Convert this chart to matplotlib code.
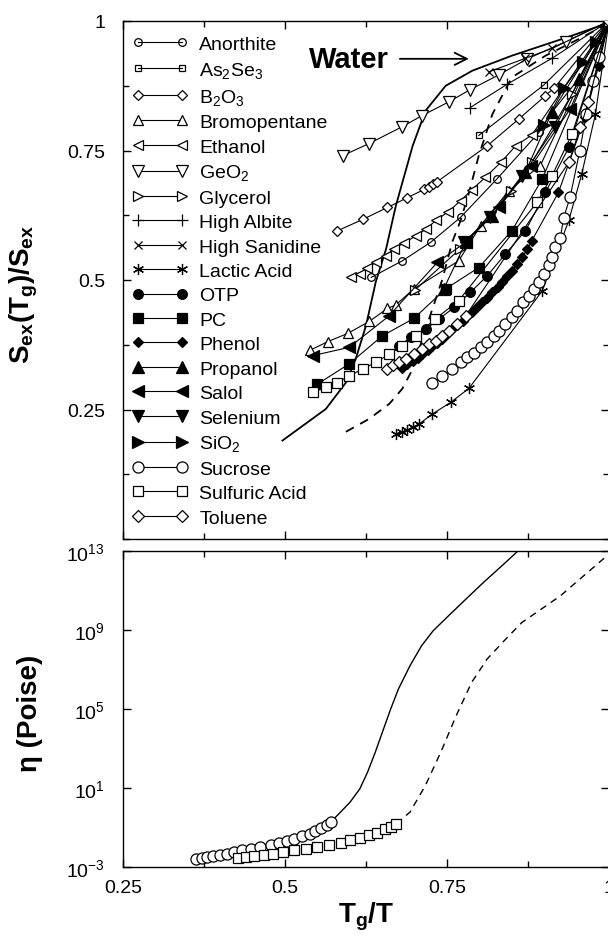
import numpy as np
import matplotlib
matplotlib.use('Agg')
import matplotlib.pyplot as plt
from matplotlib.ticker import MultipleLocator, FixedLocator, FuncFormatter, NullLocator

plt.rcParams['font.family'] = ['Liberation Sans', 'DejaVu Sans']
plt.rcParams['mathtext.fontset'] = 'custom'
plt.rcParams['mathtext.rm'] = 'Liberation Sans'
plt.rcParams['mathtext.it'] = 'Liberation Sans:italic'
plt.rcParams['mathtext.bf'] = 'Liberation Sans:bold'
plt.rcParams['mathtext.default'] = 'regular'

# ---------------- data: top panel (Tg/T , Sex(Tg)/Sex) ----------------
anorthite_x = [0.633, 0.681, 0.725, 0.771, 0.827, 0.892, 1.0]
anorthite_y = [0.505, 0.537, 0.573, 0.621, 0.695, 0.785, 1.0]
as2se3_x = [0.799, 0.899, 1.0]
as2se3_y = [0.779, 0.876, 1.0]
b2o3_x = [0.581, 0.620, 0.658, 0.689, 0.715, 0.722, 0.728, 0.735, 0.812, 0.861, 0.902, 0.915, 1.0]
b2o3_y = [0.595, 0.617, 0.640, 0.659, 0.675, 0.680, 0.685, 0.690, 0.759, 0.811, 0.856, 0.870, 1.0]
bromopentane_x = [0.538, 0.566, 0.597, 0.630, 0.658, 0.671, 0.699, 0.768, 0.802, 0.845, 0.894, 1.0]
bromopentane_y = [0.364, 0.381, 0.397, 0.420, 0.445, 0.452, 0.483, 0.537, 0.605, 0.672, 0.721, 1.0]
ethanol_x = [0.602, 0.615, 0.627, 0.640, 0.656, 0.668, 0.684, 0.702, 0.717, 0.733, 0.751, 0.771, 0.788, 0.809, 0.833, 0.856, 0.881, 1.0]
ethanol_y = [0.505, 0.512, 0.523, 0.534, 0.547, 0.560, 0.572, 0.585, 0.598, 0.615, 0.631, 0.653, 0.674, 0.698, 0.727, 0.759, 0.780, 1.0]
geo2_x = [0.589, 0.629, 0.681, 0.711, 0.753, 0.785, 0.830, 0.874, 0.933, 1.0]
geo2_y = [0.740, 0.763, 0.796, 0.817, 0.844, 0.867, 0.896, 0.927, 0.960, 1.0]
glycerol_x = [0.700, 0.770, 0.848, 0.881, 0.943, 1.0]
glycerol_y = [0.480, 0.560, 0.672, 0.727, 0.859, 1.0]
albite_x = [0.786, 0.843, 0.912, 1.0]
albite_y = [0.833, 0.878, 0.928, 1.0]
sanidine_x = [0.815, 0.871, 0.912, 1.0]
sanidine_y = [0.902, 0.928, 0.947, 1.0]
lactic_x = [0.671, 0.680, 0.688, 0.697, 0.707, 0.727, 0.756, 0.784, 0.897, 0.938, 0.958, 0.979, 1.0]
lactic_y = [0.203, 0.207, 0.210, 0.216, 0.222, 0.241, 0.264, 0.291, 0.479, 0.615, 0.705, 0.820, 1.0]
otp_x = [0.676, 0.694, 0.717, 0.738, 0.761, 0.786, 0.812, 0.840, 0.871, 0.902, 0.938, 1.0]
otp_y = [0.373, 0.389, 0.405, 0.425, 0.447, 0.476, 0.508, 0.550, 0.595, 0.669, 0.756, 1.0]
pc_x = [0.550, 0.599, 0.650, 0.699, 0.748, 0.799, 0.850, 0.897, 1.0]
pc_y = [0.299, 0.338, 0.392, 0.426, 0.483, 0.524, 0.595, 0.695, 1.0]
phenol_x = [0.681, 0.689, 0.697, 0.705, 0.712, 0.720, 0.727, 0.735, 0.743, 0.750, 0.758, 0.766, 0.774,
            0.781, 0.789, 0.797, 0.804, 0.812, 0.820, 0.828, 0.835, 0.843, 0.850, 0.858, 0.866, 0.874,
            0.881, 0.922, 0.963, 0.984, 1.0]
phenol_y = [0.331, 0.337, 0.344, 0.350, 0.357, 0.364, 0.372, 0.379, 0.387, 0.396, 0.405, 0.413, 0.421,
            0.430, 0.439, 0.448, 0.457, 0.466, 0.476, 0.486, 0.496, 0.507, 0.518, 0.531, 0.544, 0.560,
            0.576, 0.669, 0.814, 0.914, 1.0]
propanol_x = [0.745, 0.779, 0.820, 0.871, 0.912, 0.953, 1.0]
propanol_y = [0.483, 0.573, 0.624, 0.708, 0.824, 0.888, 1.0]
salol_x = [0.543, 0.599, 0.660, 0.735, 0.779, 0.830, 0.880, 0.940, 1.0]
salol_y = [0.354, 0.370, 0.430, 0.534, 0.573, 0.640, 0.720, 0.830, 1.0]
selenium_x = [0.776, 0.817, 0.866, 0.917, 1.0]
selenium_y = [0.573, 0.621, 0.701, 0.795, 1.0]
sio2_x = [0.900, 0.930, 0.960, 0.980, 1.0]
sio2_y = [0.800, 0.870, 0.920, 0.960, 1.0]
sucrose_x = [0.727, 0.743, 0.758, 0.771, 0.781, 0.792, 0.802, 0.812, 0.822, 0.830, 0.840, 0.850, 0.858,
             0.868, 0.876, 0.884, 0.892, 0.899, 0.907, 0.912, 0.917, 0.925, 0.930, 0.940, 0.955, 0.965,
             0.976, 0.985, 1.0]
sucrose_y = [0.302, 0.315, 0.328, 0.341, 0.351, 0.360, 0.370, 0.380, 0.392, 0.402, 0.415, 0.428, 0.441,
             0.457, 0.470, 0.483, 0.496, 0.512, 0.528, 0.544, 0.563, 0.582, 0.620, 0.660, 0.750, 0.820,
             0.885, 0.930, 1.0]
sulfuric_x = [0.543, 0.563, 0.581, 0.599, 0.620, 0.640, 0.661, 0.681, 0.702, 0.732, 0.768, 0.889, 0.912, 0.943, 1.0]
sulfuric_y = [0.283, 0.293, 0.302, 0.315, 0.328, 0.341, 0.357, 0.373, 0.392, 0.425, 0.460, 0.650, 0.701, 0.782, 1.0]
toluene_x = [0.658, 0.666, 0.676, 0.686, 0.699, 0.712, 0.722, 0.733, 0.743, 0.753, 0.766, 0.779, 0.938, 0.956, 0.968, 1.0]
toluene_y = [0.328, 0.335, 0.341, 0.347, 0.357, 0.367, 0.376, 0.383, 0.392, 0.402, 0.415, 0.431, 0.727, 0.795, 0.843, 1.0]

water_solid_x = [0.496, 0.563, 0.594, 0.609, 0.625, 0.640, 0.656, 0.671, 0.697, 0.717, 0.748, 0.789, 0.850, 0.927, 0.994]
water_solid_y = [0.190, 0.251, 0.302, 0.347, 0.412, 0.496, 0.560, 0.643, 0.759, 0.827, 0.875, 0.904, 0.933, 0.965, 0.994]
water_dash_x = [0.594, 0.630, 0.661, 0.681, 0.697, 0.717, 0.743, 0.758, 0.771, 0.784, 0.799, 0.820, 0.850, 0.902, 0.953, 0.994]
water_dash_y = [0.207, 0.232, 0.261, 0.290, 0.328, 0.405, 0.502, 0.573, 0.615, 0.669, 0.740, 0.820, 0.891, 0.933, 0.965, 0.992]

# ---------------- data: bottom panel (Tg/T , log10 viscosity in Poise) ----------------
circ_x = [0.3625, 0.3714, 0.3804, 0.3893, 0.4000, 0.4101, 0.4220, 0.4339, 0.4476, 0.4619, 0.4786, 0.4905,
          0.5024, 0.5143, 0.5262, 0.5381, 0.5470, 0.5560, 0.5649, 0.5708]
circ_logeta = [-2.57, -2.54, -2.49, -2.44, -2.37, -2.32, -2.24, -2.15, -2.07, -1.98, -1.87, -1.76,
               -1.66, -1.56, -1.44, -1.31, -1.19, -1.02, -0.86, -0.72]
sq_x = [0.428, 0.440, 0.452, 0.467, 0.4815, 0.4964, 0.5143, 0.5321, 0.550, 0.5679, 0.5857, 0.6006,
        0.6155, 0.6304, 0.6423, 0.6542, 0.6631, 0.672]
sq_logeta = [-2.54, -2.49, -2.44, -2.37, -2.32, -2.24, -2.15, -2.07, -1.98, -1.87, -1.76, -1.65,
             -1.53, -1.39, -1.26, -1.09, -0.97, -0.80]
visc_solid_x = [0.5708, 0.5857, 0.6006, 0.6155, 0.6274, 0.6393, 0.6512, 0.6631, 0.6750, 0.6929, 0.7107,
                0.7286, 0.7524, 0.7762, 0.8060, 0.8357, 0.8595]
visc_solid_logeta = [-0.72, -0.22, 0.29, 0.96, 1.80, 2.81, 3.91, 5.00, 6.01, 7.19, 8.20, 8.96, 9.72,
                     10.47, 11.40, 12.28, 13.0]
visc_dash_x = [0.672, 0.6929, 0.7167, 0.7405, 0.7643, 0.7881, 0.8119, 0.8357, 0.8655, 0.8952, 0.925,
               0.9548, 0.9845, 0.9994]
visc_dash_logeta = [-0.80, -0.22, 1.13, 2.82, 4.67, 6.35, 7.53, 8.37, 9.38, 10.05, 10.73, 11.57, 12.41, 12.83]

ASTER = (6, 2, 0)
series = [
    ("Anorthite", anorthite_x, anorthite_y, 'o', 'none', 5.5),
    ("As$_2$Se$_3$", as2se3_x, as2se3_y, 's', 'none', 5),
    ("B$_2$O$_3$", b2o3_x, b2o3_y, 'D', 'white', 5.5),
    ("Bromopentane", bromopentane_x, bromopentane_y, '^', 'white', 7.5),
    ("Ethanol", ethanol_x, ethanol_y, '<', 'white', 7),
    ("GeO$_2$", geo2_x, geo2_y, 'v', 'white', 8),
    ("Glycerol", glycerol_x, glycerol_y, '>', 'white', 7.5),
    ("High Albite", albite_x, albite_y, '+', 'k', 9),
    ("High Sanidine", sanidine_x, sanidine_y, 'x', 'k', 6),
    ("Lactic Acid", lactic_x, lactic_y, ASTER, 'k', 8),
    ("OTP", otp_x, otp_y, 'o', 'k', 7),
    ("PC", pc_x, pc_y, 's', 'k', 6.5),
    ("Phenol", phenol_x, phenol_y, 'D', 'k', 5.5),
    ("Propanol", propanol_x, propanol_y, '^', 'k', 8),
    ("Salol", salol_x, salol_y, '<', 'k', 8),
    ("Selenium", selenium_x, selenium_y, 'v', 'k', 8),
    ("SiO$_2$", sio2_x, sio2_y, '>', 'k', 8),
    ("Sucrose", sucrose_x, sucrose_y, 'o', 'white', 8),
    ("Sulfuric Acid", sulfuric_x, sulfuric_y, 's', 'white', 7),
    ("Toluene", toluene_x, toluene_y, 'D', 'white', 6),
]

W, H = 608, 937
fig = plt.figure(figsize=(W / 100, H / 100), dpi=100)
L, R = 123 / W, 609 / W
ax1 = fig.add_axes([L, 1 - 540 / H, R - L, (540 - 22) / H])
ax2 = fig.add_axes([L, 1 - 868 / H, R - L, (868 - 552) / H])

ax1.plot(water_solid_x, water_solid_y, '-', color='k', lw=1.3, zorder=2)
ax1.plot(water_dash_x, water_dash_y, '--', color='k', lw=1.3, dashes=(5, 4), zorder=2)

for name, xs, ys, mk, fc, ms in series:
    ax1.plot(xs, ys, '-', color='k', lw=0.8, marker=mk, markersize=ms,
             markerfacecolor=fc, markeredgecolor='k', markeredgewidth=0.9,
             label=name, zorder=3)

ax1.set_xlim(0.25, 1.0)
ax1.set_ylim(0.0, 1.0)
ax1.xaxis.set_major_locator(MultipleLocator(0.25))
ax1.xaxis.set_minor_locator(MultipleLocator(0.125))
ax1.yaxis.set_major_locator(FixedLocator([0.25, 0.5, 0.75, 1.0]))
ax1.yaxis.set_minor_locator(MultipleLocator(0.125))
ax1.yaxis.set_major_formatter(FuncFormatter(lambda v, p: f"{v:g}"))
ax1.tick_params(axis='x', labelbottom=False)

leg = ax1.legend(loc='upper left', bbox_to_anchor=(0.0185, 0.972), borderaxespad=0, borderpad=0,
                 frameon=False, numpoints=2, fontsize=14, handlelength=2.86, handletextpad=0.6,
                 labelspacing=0.35)

ax1.annotate("", xy=(0.788, 0.927), xytext=(0.673, 0.927),
             arrowprops=dict(arrowstyle='->', color='k', lw=1.3, mutation_scale=22))
ax1.text(0.599, 0.927, "Water", fontsize=21, fontweight='bold', ha='center', va='center')

ax1.set_ylabel(r"S$_\mathbf{ex}$(T$_\mathbf{g}$)/S$_\mathbf{ex}$", fontsize=20, fontweight='bold')
ax1.yaxis.set_label_coords(-0.171, 0.475)

# bottom panel
ax2.plot(visc_solid_x, 10.0 ** np.array(visc_solid_logeta), '-', color='k', lw=1.0, zorder=2)
ax2.plot(visc_dash_x, 10.0 ** np.array(visc_dash_logeta), '--', color='k', lw=1.0, dashes=(5, 4), zorder=2)
ax2.plot(circ_x, 10.0 ** np.array(circ_logeta), 'o', ms=8, mfc='white', mec='k', mew=0.9, zorder=3)
ax2.plot(sq_x, 10.0 ** np.array(sq_logeta), 's', ms=7, mfc='white', mec='k', mew=0.9, zorder=3)
ax2.set_yscale('log')
ax2.set_xlim(0.25, 1.0)
ax2.set_ylim(1e-3, 1e13)
ax2.xaxis.set_major_locator(MultipleLocator(0.25))
ax2.xaxis.set_minor_locator(MultipleLocator(0.125))
ax2.xaxis.set_major_formatter(FuncFormatter(lambda v, p: f"{v:g}"))
ax2.yaxis.set_major_locator(FixedLocator([1e-3, 1e1, 1e5, 1e9, 1e13]))
ax2.yaxis.set_minor_locator(NullLocator())
ax2.yaxis.set_major_formatter(FuncFormatter(lambda v, p: "10$^{%d}$" % int(round(np.log10(v)))))
ax2.set_ylabel("η (Poise)", fontsize=20, fontweight='bold')
ax2.yaxis.set_label_coords(-0.165, 0.49)
ax2.set_xlabel(r"T$_\mathbf{g}$/T", fontsize=20, fontweight='bold')
ax2.xaxis.set_label_coords(0.5, -0.105)

for ax in (ax1, ax2):
    ax.tick_params(which='both', direction='in', top=True, right=True, labelsize=14, width=1.0)
    ax.tick_params(which='major', length=6)
    ax.tick_params(which='minor', length=4)
    ax.tick_params(axis='y', which='major', pad=13)
    ax.tick_params(axis='x', which='major', pad=9)
    for s in ax.spines.values():
        s.set_linewidth(1.0)

fig.savefig("out.png", dpi=100)
